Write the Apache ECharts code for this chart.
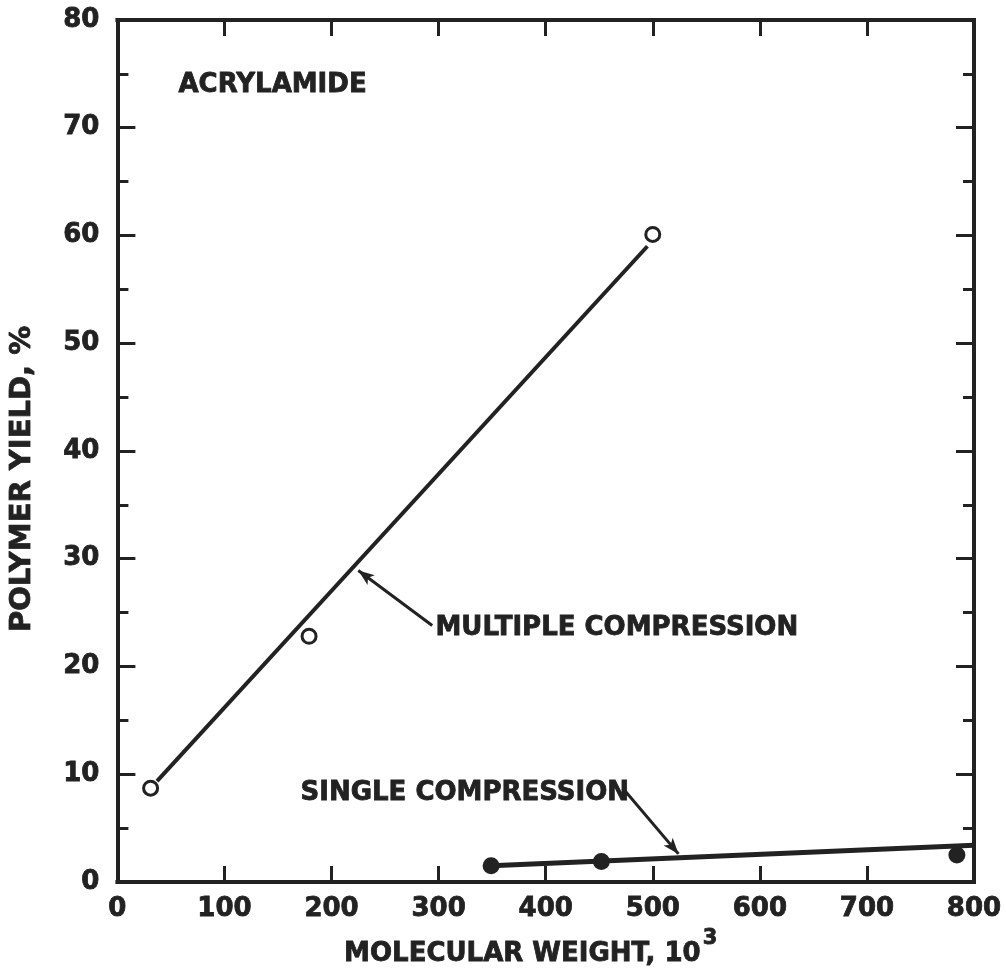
<!DOCTYPE html>
<html>
<head>
<meta charset="utf-8">
<script src="https://cdn.jsdelivr.net/npm/echarts@6/dist/echarts.min.js"></script>
<style>
html,body{margin:0;padding:0;background:#fff;}
#chart{width:1006px;height:973px;}
</style>
</head>
<body>
<div id="chart"></div>
<script>
// Data
var xTickLabels = ['0','100','200','300','400','500','600','700','800'];
var yTickLabels = ['0','10','20','30','40','50','60','70','80'];
var multiplePoints = [[31, 8.7], [179, 22.8], [500, 60.1]];
var singlePoints = [[349, 1.5], [452, 1.9], [784, 2.5]];
var multipleFit = [[37, 9.35], [495, 59]];
var singleFit = [[349, 1.5], [800, 3.4]];
var annotations = [
  {text: 'ACRYLAMIDE', at: [57, 73.9]},
  {text: 'MULTIPLE COMPRESSION', at: [297, 23.5]},
  {text: 'SINGLE COMPRESSION', at: [171, 8.2]}
];
var arrows = [
  {from: [294, 23.8], to: [225, 28.9]},
  {from: [472, 8.7], to: [524, 2.6]}
];

var INK = '#222222';
var FONT = 'DejaVu Sans';
var heavy = {color: INK, fontFamily: FONT, fontWeight: 'bold', textBorderColor: INK, textBorderWidth: 0.8};

var chart = echarts.init(document.getElementById('chart'), null, {renderer: 'canvas'});

var axisBase = {
  type: 'value',
  axisLine: {show: true, onZero: false, lineStyle: {color: INK, width: 4, cap: 'square'}},
  splitLine: {show: false}
};

var option = {
  backgroundColor: '#fff',
  animation: false,
  grid: {left: 117, right: 32, top: 20, bottom: 87, containLabel: false},
  xAxis: [
    Object.assign({}, axisBase, {
      position: 'bottom', min: 0, max: 800, interval: 100,
      axisTick: {show: true, inside: true, length: 16, lineStyle: {color: INK, width: 3}},
      axisLabel: Object.assign({
        show: true, margin: 14, fontSize: 26,
        formatter: function (v) { return xTickLabels[Math.round(v / 100)]; }
      }, heavy),
      name: '{t|MOLECULAR WEIGHT, 10}{s|3}',
      nameLocation: 'middle', nameGap: 40,
      nameTextStyle: {
        color: INK, padding: [0, 30, 0, 0],
        rich: {
          t: Object.assign({fontSize: 26, verticalAlign: 'bottom'}, heavy),
          s: Object.assign({fontSize: 21, verticalAlign: 'bottom', padding: [0, 0, 19, 2]}, heavy)
        }
      }
    }),
    Object.assign({}, axisBase, {
      position: 'top', min: 0, max: 800, interval: 100,
      axisTick: {show: true, inside: true, length: 16, lineStyle: {color: INK, width: 3}},
      axisLabel: {show: false}
    })
  ],
  yAxis: [
    Object.assign({}, axisBase, {
      position: 'left', min: 0, max: 80, interval: 10,
      axisTick: {show: true, inside: true, length: 18, lineStyle: {color: INK, width: 3}},
      minorTick: {show: true, splitNumber: 2, length: 11, lineStyle: {color: INK, width: 3}},
      axisLabel: Object.assign({
        show: true, margin: 18, fontSize: 26,
        formatter: function (v) { return yTickLabels[Math.round(v / 10)]; }
      }, heavy),
      name: 'POLYMER YIELD, %',
      nameLocation: 'middle', nameRotate: 90, nameGap: 80,
      nameTextStyle: Object.assign({fontSize: 29, padding: [0, 56, 0, 0]}, heavy)
    }),
    Object.assign({}, axisBase, {
      position: 'right', min: 0, max: 80, interval: 10,
      axisTick: {show: true, inside: true, length: 18, lineStyle: {color: INK, width: 3}},
      minorTick: {show: true, splitNumber: 2, length: 11, lineStyle: {color: INK, width: 3}},
      axisLabel: {show: false}
    })
  ],
  series: [
    {
      name: 'multiple fit', type: 'line', xAxisIndex: 0, yAxisIndex: 0,
      data: multipleFit, symbol: 'none', silent: true,
      lineStyle: {color: INK, width: 4}, z: 2,
      markLine: {
        silent: true, symbol: ['none', 'arrow'], symbolSize: [9, 16],
        label: {show: false},
        lineStyle: {color: INK, width: 3, type: 'solid'},
        data: arrows.map(function (a) { return [{coord: a.from}, {coord: a.to}]; })
      }
    },
    {
      name: 'single fit', type: 'line', xAxisIndex: 0, yAxisIndex: 0,
      data: singleFit, symbol: 'none', silent: true,
      lineStyle: {color: INK, width: 5}, z: 2
    },
    {
      name: 'MULTIPLE COMPRESSION', type: 'scatter', xAxisIndex: 0, yAxisIndex: 0,
      data: multiplePoints, symbol: 'circle', symbolSize: 14, z: 4,
      itemStyle: {color: '#fff', borderColor: INK, borderWidth: 3, opacity: 1}
    },
    {
      name: 'SINGLE COMPRESSION', type: 'scatter', xAxisIndex: 0, yAxisIndex: 0,
      data: singlePoints, symbol: 'circle', symbolSize: 17, z: 4,
      itemStyle: {color: INK, opacity: 1}
    },
    {
      name: 'annotations', type: 'scatter', xAxisIndex: 0, yAxisIndex: 0,
      data: annotations.map(function (a) { return {value: a.at, name: a.text}; }),
      symbolSize: 0, silent: true, z: 5,
      itemStyle: {opacity: 1},
      label: Object.assign({
        show: true, position: 'right', distance: 0,
        formatter: '{b}', fontSize: 26
      }, heavy)
    }
  ]
};

chart.setOption(option);
</script>
</body>
</html>
